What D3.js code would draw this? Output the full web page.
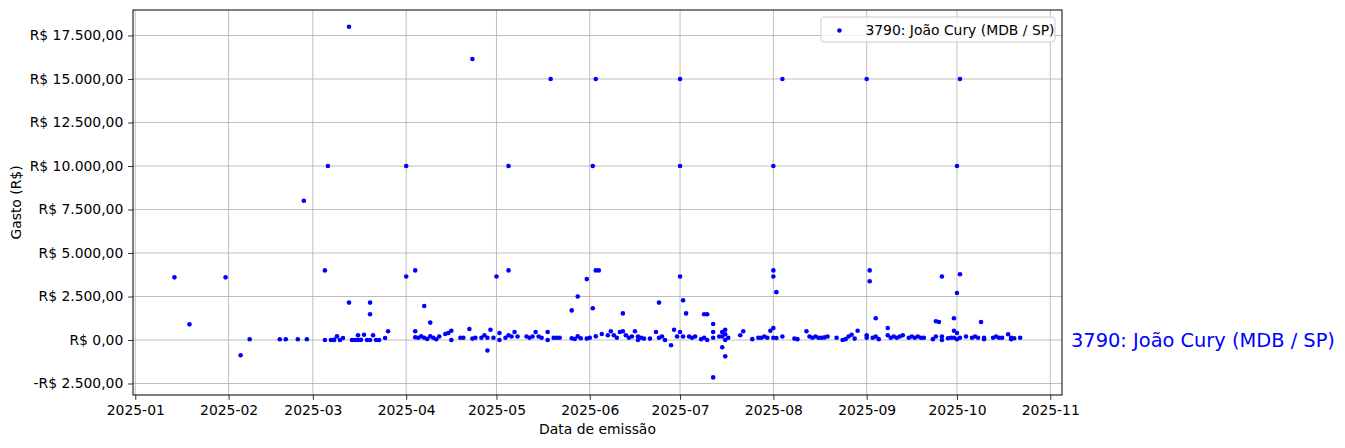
<html>
<head>
<meta charset="utf-8">
<script src='https://d3js.org/d3.v7.min.js'></script>
<style>
body { margin: 0; background-color: #ffffff; }
svg text { font-family: 'DejaVu Sans', sans-serif; fill: #000; }
.grid line { stroke: #b0b0b0; stroke-width: 0.8px; }
.axis line { stroke: #000; stroke-width: 0.8px; }
.axis text { font-size: 13.9px; }
</style>
</head>
<body>
<script>

// data de emissão of each expense
var emissao = [
  "2025-01-14","2025-01-19","2025-01-31","2025-02-05","2025-02-08","2025-02-18","2025-02-20","2025-02-24","2025-02-26","2025-02-27",
  "2025-03-05","2025-03-05","2025-03-06","2025-03-07","2025-03-08","2025-03-08","2025-03-09","2025-03-10","2025-03-11","2025-03-13",
  "2025-03-13","2025-03-14","2025-03-15","2025-03-16","2025-03-16","2025-03-17","2025-03-18","2025-03-19","2025-03-20","2025-03-20",
  "2025-03-20","2025-03-21","2025-03-22","2025-03-23","2025-03-25","2025-03-26",
  "2025-04-01","2025-04-01","2025-04-04","2025-04-04","2025-04-04","2025-04-05","2025-04-06","2025-04-07","2025-04-07","2025-04-08",
  "2025-04-09","2025-04-09","2025-04-10","2025-04-11","2025-04-12","2025-04-14","2025-04-15","2025-04-16","2025-04-16","2025-04-19",
  "2025-04-20","2025-04-22","2025-04-23","2025-04-23","2025-04-24","2025-04-26","2025-04-27","2025-04-28","2025-04-28","2025-04-29",
  "2025-04-30",
  "2025-05-01","2025-05-02","2025-05-02","2025-05-04","2025-05-05","2025-05-05","2025-05-05","2025-05-06","2025-05-07","2025-05-08",
  "2025-05-11","2025-05-12","2025-05-13","2025-05-14","2025-05-15","2025-05-16","2025-05-18","2025-05-18","2025-05-19","2025-05-20",
  "2025-05-21","2025-05-22","2025-05-26","2025-05-26","2025-05-27","2025-05-28","2025-05-28","2025-05-29","2025-05-31","2025-05-31",
  "2025-06-01","2025-06-02","2025-06-02","2025-06-03","2025-06-03","2025-06-04","2025-06-03","2025-06-05","2025-06-07","2025-06-08",
  "2025-06-09","2025-06-10","2025-06-11","2025-06-12","2025-06-12","2025-06-13","2025-06-14","2025-06-15","2025-06-16","2025-06-17",
  "2025-06-17","2025-06-18","2025-06-19","2025-06-21","2025-06-23","2025-06-24","2025-06-24","2025-06-25","2025-06-26","2025-06-28",
  "2025-06-29","2025-06-30",
  "2025-07-01","2025-07-01","2025-07-01","2025-07-01","2025-07-02","2025-07-02","2025-07-03","2025-07-04","2025-07-05","2025-07-06",
  "2025-07-08","2025-07-09","2025-07-09","2025-07-10","2025-07-10","2025-07-12","2025-07-12","2025-07-12","2025-07-12","2025-07-14",
  "2025-07-15","2025-07-15","2025-07-15","2025-07-16","2025-07-16","2025-07-16","2025-07-16","2025-07-17","2025-07-21","2025-07-22",
  "2025-07-25","2025-07-27","2025-07-28","2025-07-29","2025-07-30","2025-07-31",
  "2025-08-01","2025-08-01","2025-08-01","2025-08-01","2025-08-01","2025-08-02","2025-08-02","2025-08-04","2025-08-04","2025-08-08",
  "2025-08-09","2025-08-12","2025-08-13","2025-08-14","2025-08-15","2025-08-16","2025-08-17","2025-08-18","2025-08-19","2025-08-22",
  "2025-08-24","2025-08-25","2025-08-26","2025-08-27","2025-08-28","2025-08-29",
  "2025-09-01","2025-09-01","2025-09-01","2025-09-02","2025-09-02","2025-09-03","2025-09-04","2025-09-04","2025-09-05","2025-09-08",
  "2025-09-08","2025-09-09","2025-09-10","2025-09-11","2025-09-12","2025-09-13","2025-09-15","2025-09-16","2025-09-17","2025-09-18",
  "2025-09-19","2025-09-20","2025-09-23","2025-09-24","2025-09-24","2025-09-25","2025-09-26","2025-09-26","2025-09-26","2025-09-28",
  "2025-09-29","2025-09-30","2025-09-30","2025-09-30",
  "2025-10-01","2025-10-01","2025-10-01","2025-10-01","2025-10-02","2025-10-02","2025-10-02","2025-10-04","2025-10-06","2025-10-07",
  "2025-10-08","2025-10-09","2025-10-10","2025-10-10","2025-10-13","2025-10-14","2025-10-15","2025-10-16","2025-10-18","2025-10-19",
  "2025-10-19","2025-10-20","2025-10-22"
];

// gasto (R$), same order as emissao
var gasto = [
  3600,900,3600,-880,40,40,40,40,8000,40,
  4000,0,10000,0,0,10,210,0,115,18000,
  2150,0,0,0,270,10,300,0,2150,1480,
  0,270,0,0,115,500,
  3650,10000,4000,155,500,130,210,130,1950,60,
  1000,210,130,40,200,345,400,535,0,130,
  130,630,16150,80,130,130,270,-600,130,590,
  130,
  3650,400,0,130,10000,4000,270,200,460,200,
  200,130,200,460,200,130,460,0,15000,130,
  130,130,1700,100,60,2500,210,100,80,3500,
  130,10000,1825,15000,4000,4000,210,345,270,500,
  270,130,460,1530,500,270,130,200,500,200,
  0,130,80,80,460,2150,130,200,0,-300,
  590,200,
  15000,10000,3650,460,2280,200,1530,200,130,200,
  50,1480,130,1480,0,920,-2150,460,130,200,
  460,-420,200,590,-940,330,0,130,270,500,
  50,130,130,200,130,535,
  10000,4000,3650,690,130,2750,115,15000,200,80,
  50,500,200,130,200,130,130,150,200,130,
  0,50,200,300,80,535,
  15000,270,130,4000,3380,130,1250,200,50,690,
  270,130,200,130,200,270,130,200,130,200,
  130,130,50,1075,200,1035,3650,200,0,100,
  130,1250,535,130,
  10000,2700,400,40,15000,3780,130,200,130,200,
  130,1035,130,40,130,200,130,130,330,130,
  40,100,130
];

var seriesName = "3790: João Cury (MDB / SP)";
var yTicks = [-2500, 0, 2500, 5000, 7500, 10000, 12500, 15000, 17500];
var xDomain = ["2024-12-31T05:45:00Z", "2025-11-04T21:30:00Z"];
var yDomain = [-3161, 18966];

var margin = {top: 10, right: 283, bottom: 53, left: 133},
    width = 1345 - margin.left - margin.right,
    height = 448 - margin.top - margin.bottom;

var parseDate = d3.utcParse("%Y-%m-%d");
var data = [];
emissao.forEach(function(d, i) {
  data.push({date: parseDate(d), value: gasto[i]});
});

var x = d3.scaleUtc().domain(xDomain.map(function(d) { return new Date(d); })).range([0, width]);
var y = d3.scaleLinear().domain(yDomain).range([height, 0]);

var xTicks = d3.utcMonth.range(new Date("2025-01-01T00:00:00Z"), new Date("2025-11-02T00:00:00Z"));

var brl = d3.formatLocale({decimal: ",", thousands: ".", grouping: [3], currency: ["R$ ", ""], minus: "-"});
var fmtMoney = brl.format("$,.2f");

var svg = d3.select("body").append("svg")
    .attr("width", 1345)
    .attr("height", 448)
  .append("g")
    .attr("transform", "translate(" + margin.left + "," + margin.top + ")");

// grid
var grid = svg.append("g").attr("class", "grid");
grid.selectAll(".gx").data(xTicks).enter().append("line")
    .attr("x1", function(d) { return x(d); }).attr("x2", function(d) { return x(d); })
    .attr("y1", 0).attr("y2", height);
grid.selectAll(".gy").data(yTicks).enter().append("line")
    .attr("x1", 0).attr("x2", width)
    .attr("y1", function(d) { return y(d); }).attr("y2", function(d) { return y(d); });

// points
svg.append("g").selectAll(".dot")
    .data(data)
    .enter().append("circle")
    .attr("class", "dot")
    .attr("r", 2.3)
    .attr("cx", function(d) { return x(d.date); })
    .attr("cy", function(d) { return y(d.value); })
    .style("fill", "#0000ff");

// axes
var tick = 4.86;
var xAxis = svg.append("g")
    .attr("class", "axis")
    .attr("transform", "translate(0," + height + ")")
    .call(d3.axisBottom(x).tickValues(xTicks).tickFormat(d3.utcFormat("%Y-%m")).tickSize(tick).tickPadding(tick));
xAxis.select(".domain").remove();

var yAxis = svg.append("g")
    .attr("class", "axis")
    .call(d3.axisLeft(y).tickValues(yTicks).tickFormat(fmtMoney).tickSize(tick).tickPadding(tick));
yAxis.select(".domain").remove();

// spines
svg.append("rect")
    .attr("width", width).attr("height", height)
    .attr("fill", "none").attr("stroke", "#000").attr("stroke-width", 1);

svg.append("text")
    .attr("x", width / 2)
    .attr("y", height + 39)
    .attr("text-anchor", "middle")
    .style("font-size", "13.9px")
    .text("Data de emissão");

svg.append("text")
    .attr("transform", "translate(" + (16 - margin.left) + "," + (height / 2) + ")rotate(-90)")
    .attr("text-anchor", "middle")
    .attr("dominant-baseline", "central")
    .style("font-size", "13.9px")
    .text("Gasto (R$)");

// legend
var legend = svg.append("g");
var legendBox = legend.append("rect")
    .attr("rx", 3).attr("ry", 3)
    .attr("fill", "#fff").attr("fill-opacity", 0.8)
    .attr("stroke", "#cccccc").attr("stroke-width", 1);
var legendText = legend.append("text")
    .style("font-size", "13.9px")
    .attr("dominant-baseline", "central")
    .text(seriesName);
var tw = legendText.node().getComputedTextLength();
var bw = tw + 45, bh = 25;
var bx = width - 7 - bw, by = 7;
legendBox.attr("x", bx).attr("y", by).attr("width", bw).attr("height", bh);
legend.append("circle")
    .attr("cx", bx + 18.5).attr("cy", by + bh / 2 + 1)
    .attr("r", 2.3).style("fill", "#0000ff");
legendText.attr("x", bx + 44.5).attr("y", by + bh / 2);

// series name next to the zero line
svg.append("text")
    .attr("x", width + 9)
    .attr("y", y(0))
    .attr("dominant-baseline", "central")
    .style("font-size", "19.4px")
    .style("fill", "#0000ff")
    .text(seriesName);

</script>
</body>
</html>
